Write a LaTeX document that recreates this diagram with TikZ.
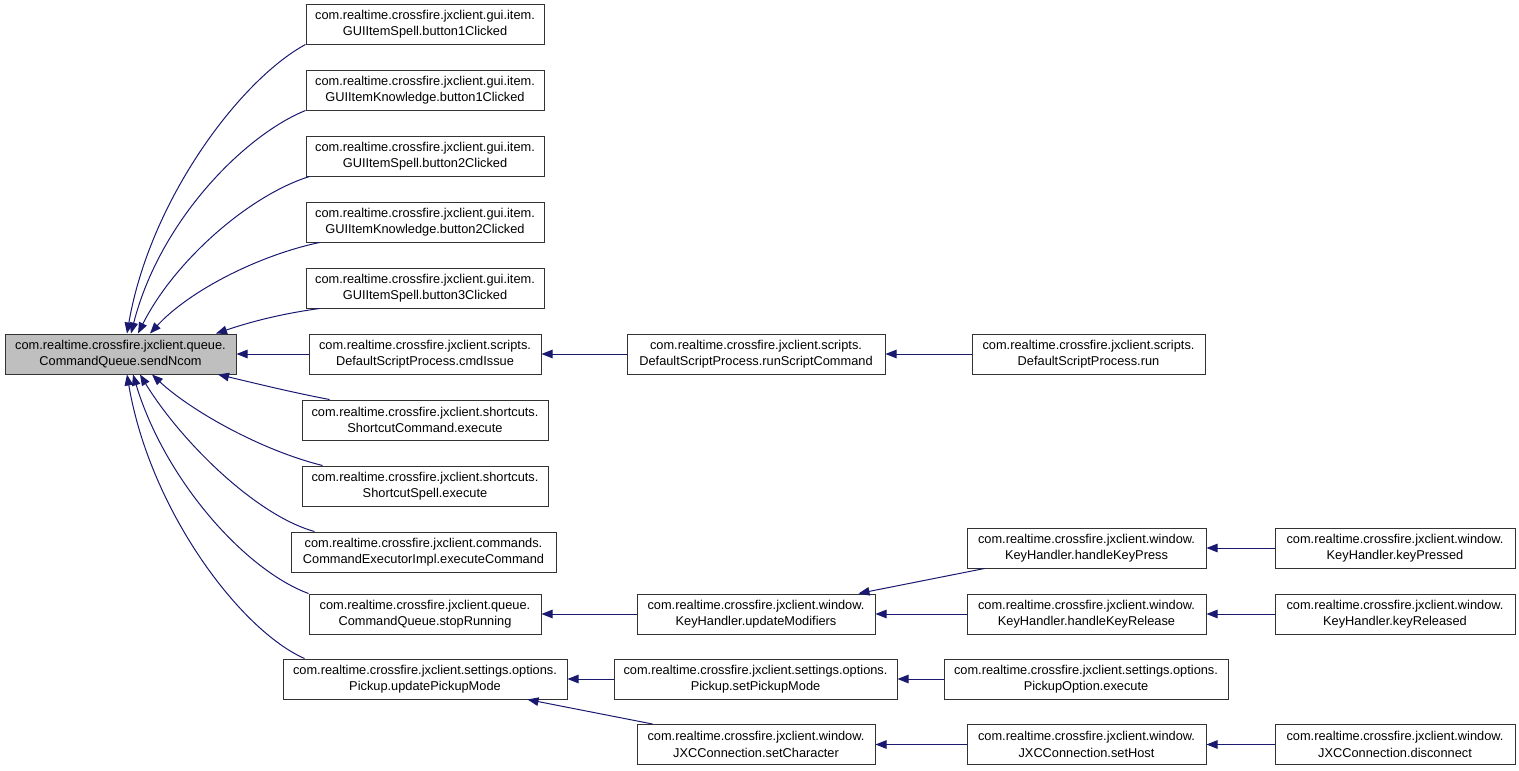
\documentclass[tikz,border=0pt]{standalone}
\usepackage{fontspec}
\setmainfont{Liberation Sans}
\usetikzlibrary{arrows.meta}
\definecolor{edgeblue}{HTML}{191970}
\begin{document}
\begin{tikzpicture}[x=1pt,y=-1pt,
  box/.style={draw=black!80, line width=1pt, align=center, inner sep=0pt,
    minimum height=40pt, font=\fontsize{12.8}{16.5}\selectfont, text=black},
  edge/.style={draw=edgeblue, line width=1pt,
    -{Triangle[length=11pt,width=8.5pt,fill=edgeblue]}}]
\useasboundingbox (0,0) rectangle (1519,771);

% main
\node[box, fill=black!25, minimum width=231pt] (main) at (120.5,354) {com.realtime.crossfire.jxclient.queue.\\CommandQueue.sendNcom};

% column 2
\node[box, minimum width=238pt] (n1) at (425,24) {com.realtime.crossfire.jxclient.gui.item.\\GUIItemSpell.button1Clicked};
\node[box, minimum width=238pt] (n2) at (425,90) {com.realtime.crossfire.jxclient.gui.item.\\GUIItemKnowledge.button1Clicked};
\node[box, minimum width=238pt] (n3) at (425,156) {com.realtime.crossfire.jxclient.gui.item.\\GUIItemSpell.button2Clicked};
\node[box, minimum width=238pt] (n4) at (425,222) {com.realtime.crossfire.jxclient.gui.item.\\GUIItemKnowledge.button2Clicked};
\node[box, minimum width=238pt] (n5) at (425,288) {com.realtime.crossfire.jxclient.gui.item.\\GUIItemSpell.button3Clicked};
\node[box, minimum width=232pt] (n6) at (425,354) {com.realtime.crossfire.jxclient.scripts.\\DefaultScriptProcess.cmdIssue};
\node[box, minimum width=246pt] (n7) at (425,420) {com.realtime.crossfire.jxclient.shortcuts.\\ShortcutCommand.execute};
\node[box, minimum width=246pt] (n8) at (425,486) {com.realtime.crossfire.jxclient.shortcuts.\\ShortcutSpell.execute};
\node[box, minimum width=265pt] (n9) at (423.5,552) {com.realtime.crossfire.jxclient.commands.\\CommandExecutorImpl.executeCommand};
\node[box, minimum width=232pt] (n10) at (425,614) {com.realtime.crossfire.jxclient.queue.\\CommandQueue.stopRunning};
\node[box, minimum width=284pt] (n11) at (425,679) {com.realtime.crossfire.jxclient.settings.options.\\Pickup.updatePickupMode};

% column 3
\node[box, minimum width=258pt] (rsc) at (756,354) {com.realtime.crossfire.jxclient.scripts.\\DefaultScriptProcess.runScriptCommand};
\node[box, minimum width=238pt] (um) at (756,614) {com.realtime.crossfire.jxclient.window.\\KeyHandler.updateModifiers};
\node[box, minimum width=283pt] (spm) at (755.5,679) {com.realtime.crossfire.jxclient.settings.options.\\Pickup.setPickupMode};
\node[box, minimum width=238pt] (sc) at (756,744.5) {com.realtime.crossfire.jxclient.window.\\JXCConnection.setCharacter};

% column 4
\node[box, minimum width=233pt] (run) at (1088.5,354) {com.realtime.crossfire.jxclient.scripts.\\DefaultScriptProcess.run};
\node[box, minimum width=239pt] (hkp) at (1086.5,548) {com.realtime.crossfire.jxclient.window.\\KeyHandler.handleKeyPress};
\node[box, minimum width=239pt] (hkr) at (1086.5,614) {com.realtime.crossfire.jxclient.window.\\KeyHandler.handleKeyRelease};
\node[box, minimum width=284pt] (poe) at (1086,679) {com.realtime.crossfire.jxclient.settings.options.\\PickupOption.execute};
\node[box, minimum width=239pt] (sh) at (1086.5,744.5) {com.realtime.crossfire.jxclient.window.\\JXCConnection.setHost};

% column 5
\node[box, minimum width=240pt] (kp) at (1395,548) {com.realtime.crossfire.jxclient.window.\\KeyHandler.keyPressed};
\node[box, minimum width=240pt] (kr) at (1395,614) {com.realtime.crossfire.jxclient.window.\\KeyHandler.keyReleased};
\node[box, minimum width=240pt] (dc) at (1395,744.5) {com.realtime.crossfire.jxclient.window.\\JXCConnection.disconnect};

% edges into main (top)
\draw[edge] (n1.south west) .. controls (240,80) and (150,200) .. ([xshift=6.5pt]main.north);
\draw[edge] (n2.south west) .. controls (245,135) and (160,220) .. ([xshift=10.5pt]main.north);
\draw[edge] ([xshift=4pt]n3.south west) .. controls (250,195) and (175,260) .. ([xshift=17.5pt]main.north);
\draw[edge] ([xshift=14pt]n4.south west) .. controls (260,255) and (190,290) .. ([xshift=29.5pt]main.north);
\draw[edge] ([xshift=14pt]n5.south west) .. controls (280,314) and (250,322) .. ([xshift=95.5pt]main.north);
% straight
\draw[edge] (n6.west) -- (main.east);
% edges into main (bottom)
\draw[edge] ([xshift=28pt]n7.north west) .. controls (290,392) and (250,382) .. ([xshift=97.5pt]main.south);
\draw[edge] ([xshift=21pt]n8.north west) .. controls (260,450) and (190,410) .. ([xshift=31.5pt]main.south);
\draw[edge] ([xshift=24pt]n9.north west) .. controls (255,515) and (180,440) .. ([xshift=19.5pt]main.south);
\draw[edge] (n10.north west) .. controls (245,570) and (165,480) .. ([xshift=12.5pt]main.south);
\draw[edge] ([xshift=22pt]n11.north west) .. controls (240,630) and (150,510) .. ([xshift=6.5pt]main.south);

% other edges
\draw[edge] (rsc.west) -- (n6.east);
\draw[edge] (run.west) -- (rsc.east);
\draw[edge] (um.west) -- (n10.east);
\draw[edge] ([xshift=18pt]hkp.south west) -- ([xshift=-17pt]um.north east);
\draw[edge] (hkr.west) -- (um.east);
\draw[edge] (kp.west) -- (hkp.east);
\draw[edge] (kr.west) -- (hkr.east);
\draw[edge] (spm.west) -- (n11.east);
\draw[edge] (poe.west) -- (spm.east);
\draw[edge] ([xshift=16pt]sc.north west) -- ([xshift=-40pt]n11.south east);
\draw[edge] (sh.west) -- (sc.east);
\draw[edge] (dc.west) -- (sh.east);
\end{tikzpicture}
\end{document}
